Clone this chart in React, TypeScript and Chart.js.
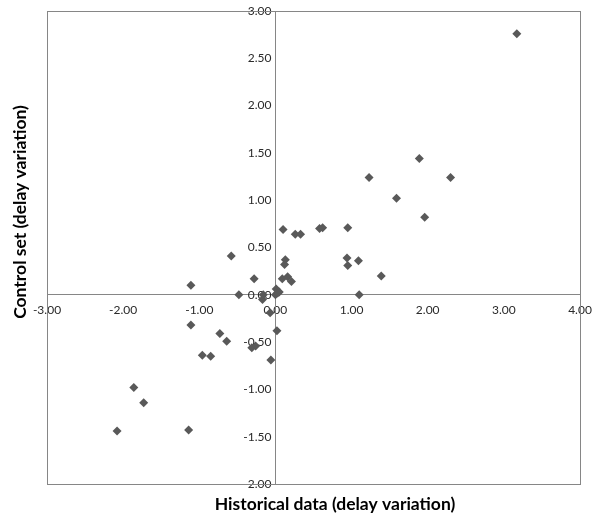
import React, { useEffect, useRef } from "react";
import { Chart, registerables } from "chart.js";

Chart.register(...registerables);

const historical = [3.17, 1.89, 1.23, 2.30, 1.59, 1.96, 0.10, 0.26, 0.33, 0.58, 0.62, 0.95, -0.58, 0.13, 0.12, 0.94, 0.95, 1.09, 1.39, -0.28, 0.09, 0.16, 0.21, -1.11, -0.48, -0.16, -0.17, 0.01, 0.05, 0.00, 0.03, 1.10, -0.07, -1.11, -0.73, -0.64, 0.02, -0.31, -0.26, -0.96, -0.85, -0.06, -1.86, -1.73, -2.08, -1.14];
const control = [2.76, 1.44, 1.24, 1.24, 1.02, 0.82, 0.69, 0.64, 0.64, 0.70, 0.71, 0.71, 0.41, 0.37, 0.32, 0.39, 0.31, 0.36, 0.20, 0.17, 0.17, 0.19, 0.14, 0.10, 0.00, 0.00, -0.05, 0.06, 0.03, 0.00, 0.02, 0.00, -0.19, -0.32, -0.41, -0.49, -0.38, -0.56, -0.54, -0.64, -0.65, -0.69, -0.98, -1.14, -1.44, -1.43];

const xTitle = "Historical data (delay variation)";
const yTitle = "Control set (delay variation)";
const xRange = [-3, 4];
const yRange = [-2, 3];

const AXIS_COLOR = "#868686";
const MARK_COLOR = "#595959";
const TEXT_COLOR = "#2a2a2a";
const FONT = "Lato, 'Open Sans', sans-serif";

const frameAndTitles = {
  id: "frameAndTitles",
  beforeDraw(chart: any) {
    const y = chart.scales.y;
    const items = y.getLabelItems();
    if (items && !(items as any)._shifted) {
      items.forEach((it: any) => {
        it.options.translation[0] -= 4;
      });
      (items as any)._shifted = true;
    }
  },
  beforeDatasetsDraw(chart: any) {
    const { ctx, chartArea } = chart;
    ctx.save();
    ctx.strokeStyle = AXIS_COLOR;
    ctx.lineWidth = 1;
    ctx.strokeRect(
      Math.round(chartArea.left) + 0.5,
      Math.round(chartArea.top) + 0.5,
      Math.round(chartArea.right - chartArea.left),
      Math.round(chartArea.bottom - chartArea.top)
    );
    ctx.restore();
  },
  afterDraw(chart: any) {
    const { ctx } = chart;
    ctx.save();
    ctx.fillStyle = "#000000";
    ctx.font = `bold 17.5px ${FONT}`;
    ctx.textAlign = "center";
    ctx.textBaseline = "alphabetic";
    ctx.fillText(xTitle, 335, 510);
    ctx.translate(26, 212);
    ctx.rotate(-Math.PI / 2);
    ctx.fillText(yTitle, 0, 0);
    ctx.restore();
  },
};

export default function App() {
  const ref = useRef<HTMLCanvasElement | null>(null);
  useEffect(() => {
    if (!ref.current) return;
    const points = historical.map((x, i) => ({ x, y: control[i] }));
    const zeroSize = (s: any) => {
      if (s.isHorizontal()) s.height = 0;
      else s.width = 0;
      s.paddingLeft = 0;
      s.paddingRight = 0;
      s.paddingTop = 0;
      s.paddingBottom = 0;
    };
    const chart = new Chart(ref.current, {
      type: "scatter",
      data: {
        datasets: [
          {
            data: points,
            pointStyle: "rectRot",
            pointRadius: 4.5,
            pointHoverRadius: 4.5,
            backgroundColor: MARK_COLOR,
            borderColor: MARK_COLOR,
            borderWidth: 0,
          },
        ],
      },
      options: {
        responsive: false,
        animation: false,
        events: [],
        layout: { padding: { left: 47, top: 11, right: 12, bottom: 32 } },
        plugins: { legend: { display: false }, tooltip: { enabled: false } },
        scales: {
          x: {
            type: "linear",
            position: { y: 0 } as any,
            min: xRange[0],
            max: xRange[1],
            afterFit: zeroSize,
            grid: { drawOnChartArea: false, drawTicks: false, color: AXIS_COLOR },
            border: { display: true, color: AXIS_COLOR, width: 1 },
            ticks: {
              stepSize: 1,
              padding: 8,
              color: TEXT_COLOR,
              font: { family: FONT, size: 12 },
              maxRotation: 0,
              autoSkip: false,
              callback: (v: any) => Number(v).toFixed(2),
            },
          },
          y: {
            type: "linear",
            position: { x: 0 } as any,
            min: yRange[0],
            max: yRange[1],
            afterFit: zeroSize,
            grid: { drawOnChartArea: false, drawTicks: false, color: AXIS_COLOR },
            border: { display: true, color: AXIS_COLOR, width: 1 },
            ticks: {
              stepSize: 0.5,
              padding: 3,
              color: TEXT_COLOR,
              font: { family: FONT, size: 12 },
              autoSkip: false,
              callback: (v: any) => Number(v).toFixed(2),
            },
          },
        },
      },
      plugins: [frameAndTitles],
    });
    return () => chart.destroy();
  }, []);
  return (
    <div style={{ position: "fixed", left: 0, top: 0, width: 592, height: 516, background: "#fff" }}>
      <canvas ref={ref} width={592} height={516} style={{ display: "block", width: 592, height: 516 }} />
    </div>
  );
}
